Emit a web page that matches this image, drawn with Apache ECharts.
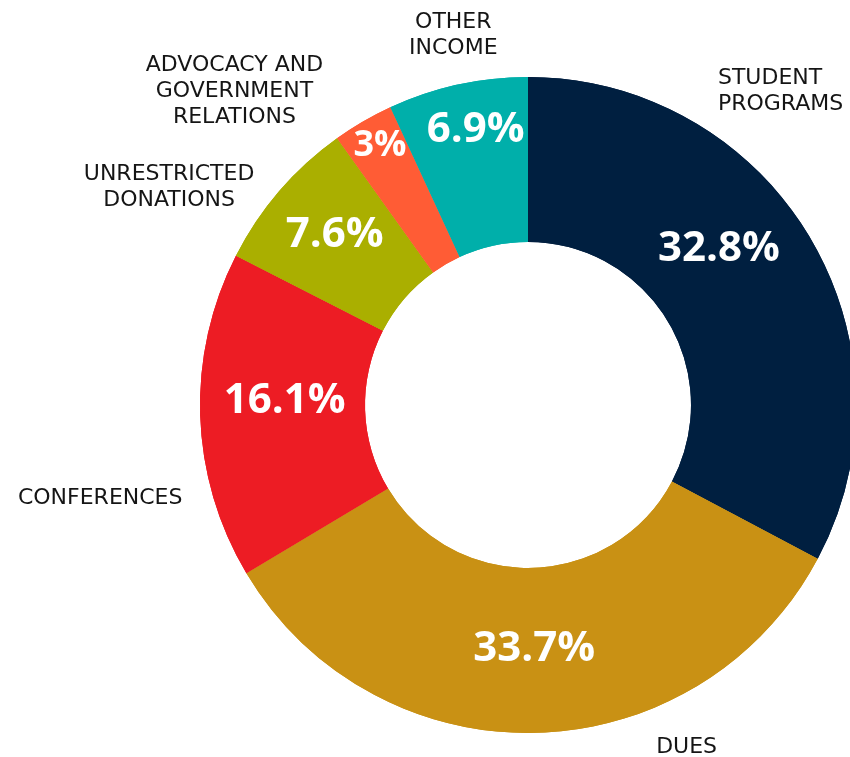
<!DOCTYPE html>
<html>
<head>
<meta charset="utf-8">
<script src="https://cdn.jsdelivr.net/npm/echarts@6/dist/echarts.min.js"></script>
<style>
  html, body { margin: 0; padding: 0; background: #fff; }
  #main { width: 850px; height: 757px; }
</style>
</head>
<body>
<div id="main"></div>
<script>
// income breakdown, clockwise from 12 o'clock
var names = [
  "STUDENT\nPROGRAMS",
  "DUES",
  "CONFERENCES",
  "UNRESTRICTED\nDONATIONS",
  "ADVOCACY AND\nGOVERNMENT\nRELATIONS",
  "OTHER\nINCOME"
];
var shares = [32.8, 33.7, 16.1, 7.6, 3, 6.9];
var colors = ["#001f40", "#c99114", "#ed1c24", "#aaaf00", "#ff5c35", "#00afaa"];

// label nudges (px) away from ECharts' default spots, to sit like the original
var pctNudge = [[-22, -28], [0, -4], [5, -12], [-5, -8], [-23, -44], [1, -32]];
var pctSize = [42, 42, 42, 42, 36, 42];
var nameNudge = [[-139, -137], [115, -1], [-50, 82], [-64, 6], [-86, -17], [34, -35]];
var nameAlign = ["left", "center", "center", "center", "center", "center"];

var chart = echarts.init(document.getElementById("main"));

var pieData = [];
for (var i = 0; i < names.length; i++) {
  pieData.push({ name: names[i], value: shares[i], itemStyle: { color: colors[i] } });
}

var center = [528, 405];
var radius = [163, 328];

chart.setOption({
  animation: false,
  series: [
    {
      // slices + percentages
      type: "pie",
      center: center,
      radius: radius,
      startAngle: 90,
      clockwise: true,
      silent: true,
      avoidLabelOverlap: false,
      data: pieData,
      label: {
        position: "inside",
        formatter: function (p) { return p.value + "%"; },
        color: "#fff",
        fontFamily: "Open Sans",
        fontWeight: "bold",
        fontSize: 42
      },
      labelLine: { show: false },
      labelLayout: function (p) {
        return {
          dx: pctNudge[p.dataIndex][0],
          dy: pctNudge[p.dataIndex][1],
          fontSize: pctSize[p.dataIndex]
        };
      }
    },
    {
      // category names outside
      type: "pie",
      center: center,
      radius: radius,
      startAngle: 90,
      clockwise: true,
      silent: true,
      avoidLabelOverlap: false,
      data: pieData,
      itemStyle: { color: "rgba(0,0,0,0)" },
      label: {
        position: "outside",
        formatter: "{b}",
        color: "#151515",
        fontFamily: "DejaVu Sans",
        fontSize: 22,
        lineHeight: 26
      },
      labelLine: { show: false },
      labelLayout: function (p) {
        return {
          dx: nameNudge[p.dataIndex][0],
          dy: nameNudge[p.dataIndex][1],
          align: nameAlign[p.dataIndex]
        };
      }
    }
  ]
});
</script>
</body>
</html>
